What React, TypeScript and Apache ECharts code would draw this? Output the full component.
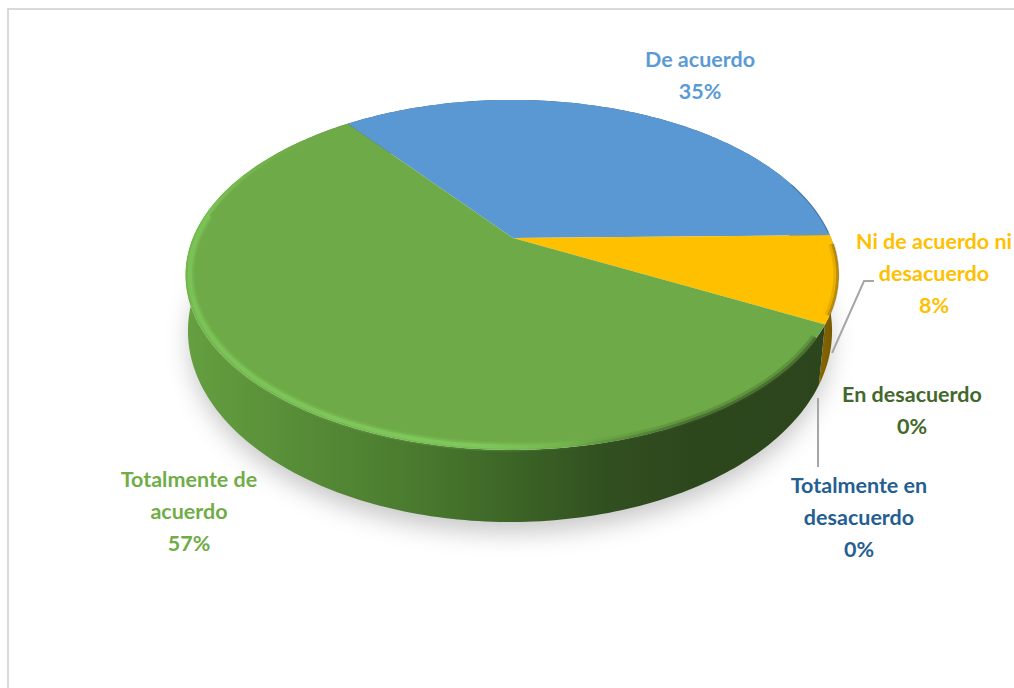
import React, { useEffect, useRef } from "react";
import * as echarts from "echarts";

const categories = [
  "De acuerdo",
  "Ni de acuerdo ni desacuerdo",
  "En desacuerdo",
  "Totalmente en desacuerdo",
  "Totalmente de acuerdo",
];
const values = [35, 8, 0, 0, 57];
const labelLines = [
  ["De acuerdo", "35%"],
  ["Ni de acuerdo ni", "desacuerdo", "8%"],
  ["En desacuerdo", "0%"],
  ["Totalmente en", "desacuerdo", "0%"],
  ["Totalmente de", "acuerdo", "57%"],
];
const topColors = ["#5A98D4", "#FFC000", "#A5A5A5", "#4472C4", "#6EAA47"];
const labelColors = ["#5B9BD5", "#FFC000", "#43682B", "#255E91", "#70AD47"];
const labelCenters = [
  [700, 59],
  [934, 241],
  [912, 394],
  [859, 485],
  [189, 479],
];
const START_DEG = -37;
const LINE_H = 32;
const FONT = "Lato, Carlito, 'Open Sans', sans-serif";
const K = -0.211;
const TOP = { x0: 512, y0: 238, A: 167.2, B: 319 };
const BOTTOM = { x0: 510, y0: 290.7, A: 182.5, B: 314.8 };

type Disk = typeof TOP;
const rad = (d: number) => (d * Math.PI) / 180;
function project(d: Disk, deg: number, r = 1): number[] {
  const u = r * Math.sin(rad(deg));
  const v = -r * Math.cos(rad(deg));
  const w = 1 + K * v;
  return [d.x0 + (d.B * u) / w, d.y0 + (d.A * v) / w];
}
function arc(d: Disk, from: number, to: number, r = 1): number[][] {
  const pts: number[][] = [];
  const n = Math.max(1, Math.ceil(Math.abs(to - from)));
  for (let i = 0; i <= n; i++) pts.push(project(d, from + ((to - from) * i) / n, r));
  return pts;
}
const total = values.reduce((a, b) => a + b, 0);
function sliceRange(i: number): [number, number] {
  let s = 0;
  for (let j = 0; j < i; j++) s += values[j];
  return [START_DEG + (s / total) * 360, START_DEG + ((s + values[i]) / total) * 360];
}
const hGrad = (stops: [number, string][]) =>
  new echarts.graphic.LinearGradient(0, 0, 1, 0, stops.map(([offset, color]) => ({ offset, color })));
const vGrad = (stops: [number, string][]) =>
  new echarts.graphic.LinearGradient(0, 0, 0, 1, stops.map(([offset, color]) => ({ offset, color })));

const wallFills = [
  () => "#2F5D8A",
  () => hGrad([[0, "#8A6800"], [1, "#6E5300"]]),
  () => "#777777",
  () => "#2F4A80",
  () =>
    hGrad([
      [0, "#649F40"],
      [0.18, "#578C37"],
      [0.36, "#4A7A2E"],
      [0.5, "#3D6627"],
      [0.66, "#314F20"],
      [0.8, "#2D471D"],
      [1, "#2C451C"],
    ]),
];

const band = (from: number, to: number, r: number, lineWidth: number, stroke: any) => ({
  type: "polyline",
  shape: { points: arc(TOP, from, to, r) },
  style: { fill: "none", lineWidth, stroke },
});
const hl = (a: number) => `rgba(135,215,100,${a})`;

export default function App() {
  const ref = useRef<HTMLDivElement>(null);
  useEffect(() => {
    const chart = echarts.init(ref.current!, null, { renderer: "svg" });
    const seriesData = categories.map((name, i) => ({ name, value: values[i] }));
    const grey = "#A6A6A6";
    chart.setOption({
      animation: false,
      backgroundColor: "#ffffff",
      graphic: [
        { type: "rect", shape: { x: 7, y: 8, width: 1007, height: 2 }, style: { fill: "#D9D9D9" } },
        { type: "rect", shape: { x: 7, y: 8, width: 2, height: 680 }, style: { fill: "#D9D9D9" } },
      ],
      series: [
        {
          type: "custom",
          name: "Sombra",
          coordinateSystem: "none",
          silent: true,
          z: 1,
          data: [0],
          renderItem: () => ({
            type: "polygon",
            shape: { points: arc(BOTTOM, 0, 360, 0.995) },
            style: {
              fill: "#ffffff",
              shadowColor: "rgba(0,0,0,0.22)",
              shadowBlur: 24,
              shadowOffsetX: 0,
              shadowOffsetY: 12,
            },
          }),
        },
        {
          type: "custom",
          name: "Lados",
          coordinateSystem: "none",
          silent: true,
          z: 2,
          data: seriesData,
          renderItem: (params: any) => {
            const i = params.dataIndex;
            if (values[i] === 0) return { type: "group", children: [] };
            const [a, b] = sliceRange(i);
            const pts = arc(TOP, a, b).concat(arc(BOTTOM, b, a));
            return { type: "polygon", shape: { points: pts }, style: { fill: wallFills[i]() } };
          },
        },
        {
          type: "custom",
          name: "Sectores",
          coordinateSystem: "none",
          silent: true,
          z: 3,
          data: seriesData,
          renderItem: (params: any) => {
            const i = params.dataIndex;
            if (values[i] === 0) return { type: "group", children: [] };
            const [a, b] = sliceRange(i);
            const pts = [[TOP.x0 + 1, TOP.y0]].concat(arc(TOP, a, b));
            return { type: "polygon", shape: { points: pts }, style: { fill: topColors[i] } };
          },
        },
        {
          type: "custom",
          name: "Bisel",
          coordinateSystem: "none",
          silent: true,
          z: 4,
          data: [0],
          renderItem: () => ({
            type: "group",
            children: [
              band(168, 278, 0.988, 10, hGrad([[0, hl(0.12)], [0.75, hl(0.14)], [1, hl(0)]])),
              band(168, 278, 0.988, 7, hGrad([[0, hl(0.2)], [0.75, hl(0.22)], [1, hl(0)]])),
              band(168, 278, 0.988, 4, hGrad([[0, hl(0.35)], [0.35, hl(0.45)], [0.7, hl(0.5)], [1, hl(0)]])),
              band(278, 312, 0.992, 5, vGrad([[0, hl(0)], [1, hl(0.3)]])),
              band(278, 312, 0.992, 2.5, vGrad([[0, hl(0)], [1, hl(0.35)]])),
              band(122, 172, 0.994, 7, hGrad([[0, "rgba(60,95,40,0)"], [0.5, "rgba(60,95,40,0.3)"], [1, "rgba(60,95,40,0.3)"]])),
              band(122, 172, 0.997, 3, hGrad([[0, "rgba(50,80,30,0)"], [0.5, "rgba(50,80,30,0.5)"], [1, "rgba(50,80,30,0.5)"]])),
              band(92, 115, 0.994, 6, "rgba(110,80,0,0.16)"),
              band(92, 115, 0.998, 3, "rgba(90,65,0,0.3)"),
              band(70, 88, 0.999, 1.5, "rgba(40,70,110,0.3)"),
            ],
          }),
        },
        {
          type: "custom",
          name: "Guias",
          coordinateSystem: "none",
          silent: true,
          z: 5,
          data: [0],
          renderItem: () => ({
            type: "group",
            children: [
              {
                type: "polyline",
                shape: { points: [[832, 353], [864, 281], [874, 281]] },
                style: { fill: "none", stroke: grey, lineWidth: 2 },
              },
              {
                type: "line",
                shape: { x1: 818, y1: 398, x2: 818, y2: 467 },
                style: { stroke: grey, lineWidth: 2 },
              },
            ],
          }),
        },
        {
          type: "custom",
          name: "Etiquetas",
          coordinateSystem: "none",
          silent: true,
          z: 6,
          data: seriesData,
          renderItem: (params: any) => {
            const i = params.dataIndex;
            return {
              type: "group",
              children: labelLines[i].map((t, j) => ({
                type: "text",
                style: {
                  x: labelCenters[i][0],
                  y: labelCenters[i][1] + j * LINE_H,
                  text: t,
                  fill: labelColors[i],
                  font: `bold 21.5px ${FONT}`,
                  align: "center",
                  verticalAlign: "middle",
                },
              })),
            };
          },
        },
      ],
    });
    return () => chart.dispose();
  }, []);
  return (
    <div
      ref={ref}
      style={{ position: "fixed", left: 0, top: 0, width: 1014, height: 688, background: "#fff" }}
    />
  );
}
